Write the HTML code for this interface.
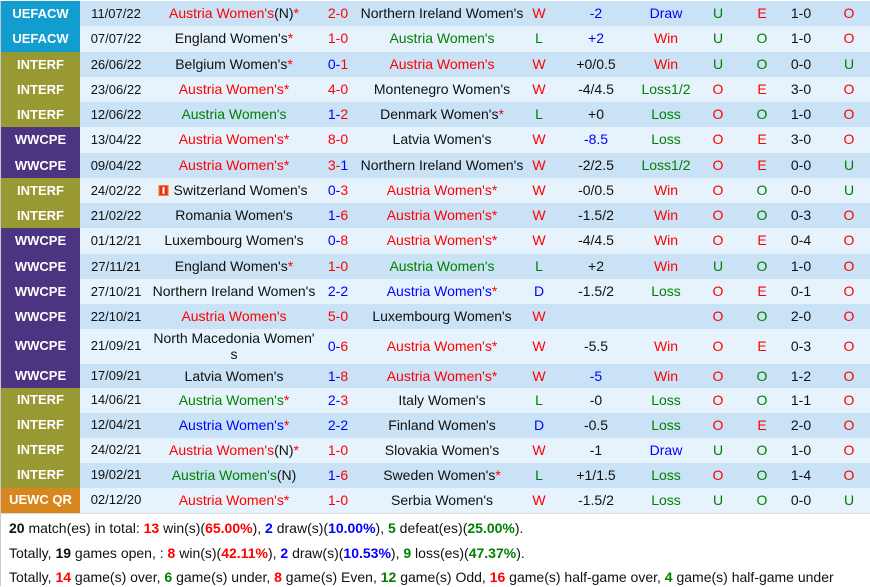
<!DOCTYPE html>
<html><head><meta charset="utf-8">
<style>
*{margin:0;padding:0;box-sizing:border-box}
html,body{width:870px;height:586px;overflow:hidden;background:#fff;font-family:"Liberation Sans",Arial,sans-serif;font-size:14px;color:#111}
.r{position:absolute;left:0;width:870px;border-left:1px solid #c8c8c8;font-size:14px}
.o{background:#c9e2f5}
.e{background:#e6f3fc}
.r span.c{position:absolute;top:0;transform:translateX(-50%);white-space:nowrap;text-align:center}
.r span.d{font-size:13px}
.lg{position:absolute;left:0;top:0;bottom:0;width:79px;color:#fff;font-weight:bold;text-align:center;font-size:13px}
.uefa{background:#119ecf}
.intf{background:#999933}
.wwc{background:#4b3480}
.uewc{background:#d8861e}
.R{color:#f00}.G{color:#008000}.B{color:#00f}.K{color:#111}
.flag{display:inline-block;width:10px;height:11px;background:#e8301c;border:1px solid #f08a20;position:relative;vertical-align:-1px;margin-right:5px}
.flag:after{content:"";position:absolute;left:3px;top:1px;width:2px;height:7px;background:#fff}
#sum{position:absolute;left:0;top:513px;width:870px;height:73px;border-top:1px solid #ddd;border-left:1px solid #ccc;background:#fff;font-size:14px;color:#111}
#sum div{position:absolute;left:8px;white-space:nowrap}
#sum b{font-weight:bold}
</style></head><body>

<div class="r o" style="top:1px;height:25.25px;line-height:25.25px"><div class="lg uefa">UEFACW</div>
<span class="c d" style="left:115px">11/07/22</span><span class="c" style="left:233px"><span class="R">Austria Women's</span>(N)<span class="R">*</span></span><span class="c R" style="left:337px">2-0</span><span class="c" style="left:441px">Northern Ireland Women's</span><span class="c R" style="left:538px">W</span><span class="c B" style="left:595px">-2</span><span class="c B" style="left:665px">Draw</span><span class="c G" style="left:717px">U</span><span class="c R" style="left:761px">E</span><span class="c" style="left:800px">1-0</span><span class="c R" style="left:848px">O</span></div>

<div class="r e" style="top:26.25px;height:25.25px;line-height:25.25px"><div class="lg uefa">UEFACW</div>
<span class="c d" style="left:115px">07/07/22</span><span class="c" style="left:233px">England Women's<span class="R">*</span></span><span class="c R" style="left:337px">1-0</span><span class="c G" style="left:441px">Austria Women's</span><span class="c G" style="left:538px">L</span><span class="c B" style="left:595px">+2</span><span class="c R" style="left:665px">Win</span><span class="c G" style="left:717px">U</span><span class="c G" style="left:761px">O</span><span class="c" style="left:800px">1-0</span><span class="c R" style="left:848px">O</span></div>

<div class="r o" style="top:51.5px;height:25.25px;line-height:25.25px"><div class="lg intf">INTERF</div>
<span class="c d" style="left:115px">26/06/22</span><span class="c" style="left:233px">Belgium Women's<span class="R">*</span></span><span class="c" style="left:337px"><span class="B">0-</span><span class="R">1</span></span><span class="c R" style="left:441px">Austria Women's</span><span class="c R" style="left:538px">W</span><span class="c" style="left:595px">+0/0.5</span><span class="c R" style="left:665px">Win</span><span class="c G" style="left:717px">U</span><span class="c G" style="left:761px">O</span><span class="c" style="left:800px">0-0</span><span class="c G" style="left:848px">U</span></div>

<div class="r e" style="top:76.75px;height:25.25px;line-height:25.25px"><div class="lg intf">INTERF</div>
<span class="c d" style="left:115px">23/06/22</span><span class="c" style="left:233px"><span class="R">Austria Women's*</span></span><span class="c R" style="left:337px">4-0</span><span class="c" style="left:441px">Montenegro Women's</span><span class="c R" style="left:538px">W</span><span class="c" style="left:595px">-4/4.5</span><span class="c G" style="left:665px">Loss1/2</span><span class="c R" style="left:717px">O</span><span class="c R" style="left:761px">E</span><span class="c" style="left:800px">3-0</span><span class="c R" style="left:848px">O</span></div>

<div class="r o" style="top:102px;height:25.25px;line-height:25.25px"><div class="lg intf">INTERF</div>
<span class="c d" style="left:115px">12/06/22</span><span class="c G" style="left:233px">Austria Women's</span><span class="c" style="left:337px"><span class="B">1-</span><span class="R">2</span></span><span class="c" style="left:441px">Denmark Women's<span class="R">*</span></span><span class="c G" style="left:538px">L</span><span class="c" style="left:595px">+0</span><span class="c G" style="left:665px">Loss</span><span class="c R" style="left:717px">O</span><span class="c G" style="left:761px">O</span><span class="c" style="left:800px">1-0</span><span class="c R" style="left:848px">O</span></div>

<div class="r e" style="top:127.25px;height:25.25px;line-height:25.25px"><div class="lg wwc">WWCPE</div>
<span class="c d" style="left:115px">13/04/22</span><span class="c R" style="left:233px">Austria Women's*</span><span class="c R" style="left:337px">8-0</span><span class="c" style="left:441px">Latvia Women's</span><span class="c R" style="left:538px">W</span><span class="c B" style="left:595px">-8.5</span><span class="c G" style="left:665px">Loss</span><span class="c R" style="left:717px">O</span><span class="c R" style="left:761px">E</span><span class="c" style="left:800px">3-0</span><span class="c R" style="left:848px">O</span></div>

<div class="r o" style="top:152.5px;height:25.25px;line-height:25.25px"><div class="lg wwc">WWCPE</div>
<span class="c d" style="left:115px">09/04/22</span><span class="c R" style="left:233px">Austria Women's*</span><span class="c" style="left:337px"><span class="R">3-</span><span class="B">1</span></span><span class="c" style="left:441px">Northern Ireland Women's</span><span class="c R" style="left:538px">W</span><span class="c" style="left:595px">-2/2.5</span><span class="c G" style="left:665px">Loss1/2</span><span class="c R" style="left:717px">O</span><span class="c R" style="left:761px">E</span><span class="c" style="left:800px">0-0</span><span class="c G" style="left:848px">U</span></div>

<div class="r e" style="top:177.75px;height:25.25px;line-height:25.25px"><div class="lg intf">INTERF</div>
<span class="c d" style="left:115px">24/02/22</span><span class="c" style="left:232px"><span class="flag"></span>Switzerland Women's</span><span class="c" style="left:337px"><span class="B">0-</span><span class="R">3</span></span><span class="c R" style="left:441px">Austria Women's*</span><span class="c R" style="left:538px">W</span><span class="c" style="left:595px">-0/0.5</span><span class="c R" style="left:665px">Win</span><span class="c R" style="left:717px">O</span><span class="c G" style="left:761px">O</span><span class="c" style="left:800px">0-0</span><span class="c G" style="left:848px">U</span></div>

<div class="r o" style="top:203px;height:25.25px;line-height:25.25px"><div class="lg intf">INTERF</div>
<span class="c d" style="left:115px">21/02/22</span><span class="c" style="left:233px">Romania Women's</span><span class="c" style="left:337px"><span class="B">1-</span><span class="R">6</span></span><span class="c R" style="left:441px">Austria Women's*</span><span class="c R" style="left:538px">W</span><span class="c" style="left:595px">-1.5/2</span><span class="c R" style="left:665px">Win</span><span class="c R" style="left:717px">O</span><span class="c G" style="left:761px">O</span><span class="c" style="left:800px">0-3</span><span class="c R" style="left:848px">O</span></div>

<div class="r e" style="top:228.25px;height:25.25px;line-height:25.25px"><div class="lg wwc">WWCPE</div>
<span class="c d" style="left:115px">01/12/21</span><span class="c" style="left:233px">Luxembourg Women's</span><span class="c" style="left:337px"><span class="B">0-</span><span class="R">8</span></span><span class="c R" style="left:441px">Austria Women's*</span><span class="c R" style="left:538px">W</span><span class="c" style="left:595px">-4/4.5</span><span class="c R" style="left:665px">Win</span><span class="c R" style="left:717px">O</span><span class="c R" style="left:761px">E</span><span class="c" style="left:800px">0-4</span><span class="c R" style="left:848px">O</span></div>

<div class="r o" style="top:253.5px;height:25.25px;line-height:25.25px"><div class="lg wwc">WWCPE</div>
<span class="c d" style="left:115px">27/11/21</span><span class="c" style="left:233px">England Women's<span class="R">*</span></span><span class="c R" style="left:337px">1-0</span><span class="c G" style="left:441px">Austria Women's</span><span class="c G" style="left:538px">L</span><span class="c" style="left:595px">+2</span><span class="c R" style="left:665px">Win</span><span class="c G" style="left:717px">U</span><span class="c G" style="left:761px">O</span><span class="c" style="left:800px">1-0</span><span class="c R" style="left:848px">O</span></div>

<div class="r e" style="top:278.75px;height:25.25px;line-height:25.25px"><div class="lg wwc">WWCPE</div>
<span class="c d" style="left:115px">27/10/21</span><span class="c" style="left:233px">Northern Ireland Women's</span><span class="c B" style="left:337px">2-2</span><span class="c B" style="left:441px">Austria Women's<span class="R">*</span></span><span class="c B" style="left:538px">D</span><span class="c" style="left:595px">-1.5/2</span><span class="c G" style="left:665px">Loss</span><span class="c R" style="left:717px">O</span><span class="c R" style="left:761px">E</span><span class="c" style="left:800px">0-1</span><span class="c R" style="left:848px">O</span></div>

<div class="r o" style="top:304px;height:25.25px;line-height:25.25px"><div class="lg wwc">WWCPE</div>
<span class="c d" style="left:115px">22/10/21</span><span class="c R" style="left:233px">Austria Women's</span><span class="c R" style="left:337px">5-0</span><span class="c" style="left:441px">Luxembourg Women's</span><span class="c R" style="left:538px">W</span><span class="c R" style="left:717px">O</span><span class="c G" style="left:761px">O</span><span class="c" style="left:800px">2-0</span><span class="c R" style="left:848px">O</span></div>

<div class="r e" style="top:329.25px;height:34.25px;line-height:34.25px"><div class="lg wwc">WWCPE</div>
<span class="c d" style="left:115px">21/09/21</span><span class="c" style="left:233px;line-height:16px;top:1px">North Macedonia Women'<br>s</span><span class="c" style="left:337px"><span class="B">0-</span><span class="R">6</span></span><span class="c R" style="left:441px">Austria Women's*</span><span class="c R" style="left:538px">W</span><span class="c" style="left:595px">-5.5</span><span class="c R" style="left:665px">Win</span><span class="c R" style="left:717px">O</span><span class="c R" style="left:761px">E</span><span class="c" style="left:800px">0-3</span><span class="c R" style="left:848px">O</span></div>

<div class="r o" style="top:363.5px;height:24.92px;line-height:24.92px"><div class="lg wwc">WWCPE</div>
<span class="c d" style="left:115px">17/09/21</span><span class="c" style="left:233px">Latvia Women's</span><span class="c" style="left:337px"><span class="B">1-</span><span class="R">8</span></span><span class="c R" style="left:441px">Austria Women's*</span><span class="c R" style="left:538px">W</span><span class="c B" style="left:595px">-5</span><span class="c R" style="left:665px">Win</span><span class="c R" style="left:717px">O</span><span class="c G" style="left:761px">O</span><span class="c" style="left:800px">1-2</span><span class="c R" style="left:848px">O</span></div>

<div class="r e" style="top:388.42px;height:24.92px;line-height:24.92px"><div class="lg intf">INTERF</div>
<span class="c d" style="left:115px">14/06/21</span><span class="c" style="left:233px"><span class="G">Austria Women's</span><span class="R">*</span></span><span class="c" style="left:337px"><span class="B">2-</span><span class="R">3</span></span><span class="c" style="left:441px">Italy Women's</span><span class="c G" style="left:538px">L</span><span class="c" style="left:595px">-0</span><span class="c G" style="left:665px">Loss</span><span class="c R" style="left:717px">O</span><span class="c G" style="left:761px">O</span><span class="c" style="left:800px">1-1</span><span class="c R" style="left:848px">O</span></div>

<div class="r o" style="top:413.33px;height:24.92px;line-height:24.92px"><div class="lg intf">INTERF</div>
<span class="c d" style="left:115px">12/04/21</span><span class="c" style="left:233px"><span class="B">Austria Women's</span><span class="R">*</span></span><span class="c B" style="left:337px">2-2</span><span class="c" style="left:441px">Finland Women's</span><span class="c B" style="left:538px">D</span><span class="c" style="left:595px">-0.5</span><span class="c G" style="left:665px">Loss</span><span class="c R" style="left:717px">O</span><span class="c R" style="left:761px">E</span><span class="c" style="left:800px">2-0</span><span class="c R" style="left:848px">O</span></div>

<div class="r e" style="top:438.25px;height:24.92px;line-height:24.92px"><div class="lg intf">INTERF</div>
<span class="c d" style="left:115px">24/02/21</span><span class="c" style="left:233px"><span class="R">Austria Women's</span>(N)<span class="R">*</span></span><span class="c R" style="left:337px">1-0</span><span class="c" style="left:441px">Slovakia Women's</span><span class="c R" style="left:538px">W</span><span class="c" style="left:595px">-1</span><span class="c B" style="left:665px">Draw</span><span class="c G" style="left:717px">U</span><span class="c G" style="left:761px">O</span><span class="c" style="left:800px">1-0</span><span class="c R" style="left:848px">O</span></div>

<div class="r o" style="top:463.17px;height:24.92px;line-height:24.92px"><div class="lg intf">INTERF</div>
<span class="c d" style="left:115px">19/02/21</span><span class="c" style="left:233px"><span class="G">Austria Women's</span>(N)</span><span class="c" style="left:337px"><span class="B">1-</span><span class="R">6</span></span><span class="c" style="left:441px">Sweden Women's<span class="R">*</span></span><span class="c G" style="left:538px">L</span><span class="c" style="left:595px">+1/1.5</span><span class="c G" style="left:665px">Loss</span><span class="c R" style="left:717px">O</span><span class="c G" style="left:761px">O</span><span class="c" style="left:800px">1-4</span><span class="c R" style="left:848px">O</span></div>

<div class="r e" style="top:488.08px;height:24.92px;line-height:24.92px"><div class="lg uewc">UEWC QR</div>
<span class="c d" style="left:115px">02/12/20</span><span class="c R" style="left:233px">Austria Women's*</span><span class="c R" style="left:337px">1-0</span><span class="c" style="left:441px">Serbia Women's</span><span class="c R" style="left:538px">W</span><span class="c" style="left:595px">-1.5/2</span><span class="c G" style="left:665px">Loss</span><span class="c G" style="left:717px">U</span><span class="c G" style="left:761px">O</span><span class="c" style="left:800px">0-0</span><span class="c G" style="left:848px">U</span></div>

<div id="sum">
<div style="top:4px;line-height:20px"><b>20</b> match(es) in total: <b class="R">13</b> win(s)(<b class="R">65.00%</b>), <b class="B">2</b> draw(s)(<b class="B">10.00%</b>), <b class="G">5</b> defeat(es)(<b class="G">25.00%</b>).</div>
<div style="top:28.5px;line-height:20px">Totally, <b>19</b> games open, : <b class="R">8</b> win(s)(<b class="R">42.11%</b>), <b class="B">2</b> draw(s)(<b class="B">10.53%</b>), <b class="G">9</b> loss(es)(<b class="G">47.37%</b>).</div>
<div style="top:53px;line-height:20px">Totally, <b class="R">14</b> game(s) over, <b class="G">6</b> game(s) under, <b class="R">8</b> game(s) Even, <b class="G">12</b> game(s) Odd, <b class="R">16</b> game(s) half-game over, <b class="G">4</b> game(s) half-game under</div>
</div>

</body></html>
